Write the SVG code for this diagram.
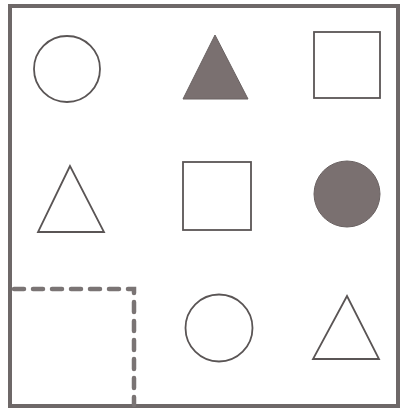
<svg xmlns="http://www.w3.org/2000/svg" width="403" height="412" viewBox="0 0 403 412">
<style>
.o{fill:none;stroke:#5a5555;stroke-width:1.8}
.f{fill:#7a7070;stroke:#6a6262;stroke-width:1}
.d{fill:none;stroke:#7a7474;stroke-width:4.5;stroke-linecap:round;stroke-dasharray:10 9}
</style>
<rect x="0" y="0" width="403" height="412" fill="#fff"/>
<g id="frame"><rect x="10" y="6" width="388" height="400" fill="none" stroke="#6e6868" stroke-width="4"/></g>
<g id="r1c1"><circle class="o" cx="67" cy="69" r="33"/></g>
<g id="r1c2"><polygon class="f" points="215,35 183,99 248,99"/></g>
<g id="r1c3"><rect class="o" x="314" y="32" width="66" height="66"/></g>
<g id="r2c1"><polygon class="o" points="70,166 38,232 104,232"/></g>
<g id="r2c2"><rect class="o" x="183" y="162" width="68" height="68"/></g>
<g id="r2c3"><circle class="f" cx="347" cy="194" r="33"/></g>
<g id="r3c1"><path class="d" d="M14,289 H134 V405"/></g>
<g id="r3c2"><circle class="o" cx="219" cy="328" r="33.5"/></g>
<g id="r3c3"><polygon class="o" points="347,296 313,359 379,359"/></g>
</svg>
